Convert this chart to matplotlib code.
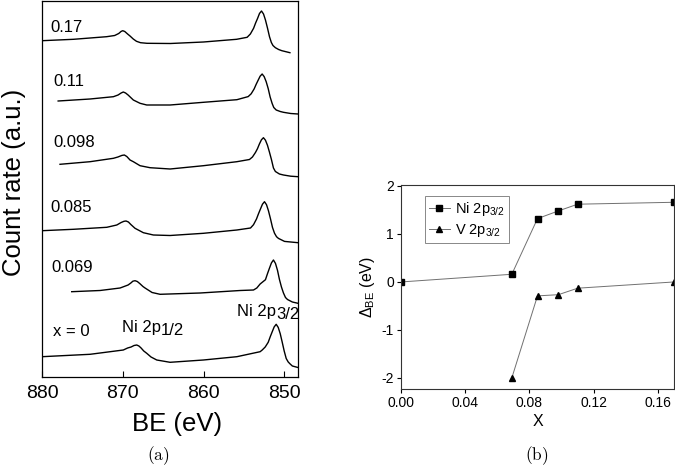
import matplotlib
matplotlib.use("Agg")
import matplotlib.pyplot as plt

plt.rcParams['font.family'] = ['Liberation Sans', 'DejaVu Sans']
plt.rcParams['mathtext.fontset'] = 'custom'
plt.rcParams['mathtext.rm'] = 'Liberation Sans'
plt.rcParams['mathtext.it'] = 'Liberation Sans:italic'
plt.rcParams['mathtext.bf'] = 'Liberation Sans:bold'
plt.rcParams['axes.unicode_minus'] = False

# ---------------- panel (a): Ni 2p XPS spectra (offset, a.u.) ----------------
be_017 = [880.0, 876.1, 872.0, 871.0, 870.5, 870.2, 870.0, 869.75, 869.4, 869.1, 868.7, 868.3,
          867.8, 867.0, 864.1, 860.0, 855.9, 854.6, 854.2, 853.8, 853.55, 853.3, 853.07, 852.82,
          852.57, 852.33, 852.08, 851.83, 851.6, 851.4, 851.1, 850.7, 850.3, 849.3]
cnt_017 = [336.3, 337.7, 340.3, 341.5, 343.5, 345.6, 346.3, 345.5, 343.0, 341.0, 338.0, 335.7,
           334.3, 333.7, 333.5, 335.0, 337.7, 339.7, 343.0, 348.7, 354.0, 358.7, 363.5, 366.0,
           363.0, 357.0, 349.0, 340.3, 334.5, 331.5, 329.3, 327.5, 326.3, 324.3]

be_011 = [878.0, 874.05, 871.16, 870.58, 870.2, 869.93, 869.65, 869.34, 868.69, 867.86, 867.03,
          864.14, 860.01, 855.87, 854.47, 854.10, 853.73, 853.48, 853.24, 852.99, 852.74, 852.49,
          852.24, 851.99, 851.75, 851.5, 851.3, 851.0, 850.5, 850.1, 849.2, 848.3]
cnt_011 = [276.0, 278.0, 280.3, 282.0, 284.0, 285.0, 284.0, 282.0, 277.0, 273.7, 272.0,
           272.0, 274.7, 277.3, 280.4, 283.2, 288.1, 292.7, 296.7, 300.8, 303.0, 300.4,
           295.3, 288.4, 280.0, 273.5, 269.5, 267.0, 265.5, 264.7, 263.5, 263.0]

be_0098 = [877.77, 874.05, 871.16, 870.6, 870.1, 869.80, 869.5, 869.1, 868.69, 867.86, 866.62,
           864.14, 860.01, 855.87, 854.31, 853.94, 853.57, 853.32, 853.08, 852.83, 852.58, 852.33,
           852.08, 851.84, 851.59, 851.34, 851.1, 850.6, 850.1, 849.2, 848.3]
cnt_0098 = [212.7, 215.3, 218.7, 220.0, 221.6, 222.0, 220.5, 217.0, 215.3, 211.3, 209.3,
            208.0, 211.3, 215.3, 217.5, 220.0, 224.5, 228.3, 233.0, 237.2, 239.3, 236.8,
            231.7, 225.0, 217.5, 209.0, 205.5, 203.0, 202.0, 200.8, 200.3]

be_0085 = [880.0, 876.12, 871.98, 870.74, 870.2, 869.85, 869.59, 869.3, 869.0, 868.48, 867.45,
           866.21, 864.14, 860.01, 855.87, 854.18, 853.81, 853.44, 853.19, 852.95, 852.70, 852.45,
           852.20, 851.96, 851.71, 851.46, 851.21, 850.96, 850.72, 849.97, 848.3]
cnt_0085 = [146.3, 147.7, 149.7, 152.0, 154.5, 155.7, 156.0, 155.0, 152.5, 148.7, 144.3,
            142.0, 141.5, 143.7, 147.0, 149.0, 152.3, 158.0, 163.3, 168.0, 172.8, 175.3,
            172.3, 166.3, 158.3, 149.6, 143.8, 140.3, 138.6, 135.6, 134.3]

be_0069 = [876.32, 872.81, 870.33, 869.34, 869.0, 868.75, 868.48, 868.2, 867.9, 867.5, 867.24,
           866.37, 865.38, 860.42, 855.46, 853.81, 853.4, 852.99, 852.33, 852.08, 851.84, 851.59,
           851.34, 851.09, 850.84, 850.60, 850.35, 850.10, 849.85, 849.6, 849.0, 848.3]
cnt_0069 = [85.3, 86.5, 89.0, 92.0, 94.0, 95.8, 96.3, 95.5, 93.5, 90.5, 89.0,
            84.5, 82.7, 84.0, 86.5, 87.0, 89.0, 93.0, 97.3, 103.3, 108.7, 114.1,
            117.0, 113.6, 106.7, 97.6, 90.0, 84.0, 79.5, 77.5, 75.0, 73.7]

be_0 = [880.0, 874.05, 869.93, 869.4, 868.97, 868.6, 868.27, 868.0, 867.73, 867.4, 867.03,
        866.5, 865.79, 864.14, 860.01, 855.87, 852.99, 852.73, 852.36, 851.99, 851.74, 851.5,
        851.25, 851.0, 850.75, 850.5, 850.26, 850.01, 849.76, 849.51, 849.27, 849.0, 848.3]
cnt_0 = [20.3, 22.7, 27.0, 29.0, 30.0, 31.5, 32.0, 31.0, 29.0, 26.0, 23.7,
         20.0, 17.0, 14.7, 17.0, 20.3, 25.3, 27.0, 30.0, 34.7, 40.2, 45.1,
         50.1, 52.7, 49.6, 43.3, 35.0, 26.0, 18.5, 15.0, 13.0, 11.0, 9.5]

spectra = [(be_017, cnt_017), (be_011, cnt_011), (be_0098, cnt_0098),
           (be_0085, cnt_0085), (be_0069, cnt_0069), (be_0, cnt_0)]
spec_labels = ['0.17', '0.11', '0.098', '0.085', '0.069', 'x = 0']
spec_label_pos = [(879.0, 345.3), (878.6, 291.0), (878.6, 230.0),
                  (879.0, 165.0), (878.8, 105.0), (878.6, 41.0)]
be_ticks = [880, 870, 860, 850]

# ---------------- panel (b): binding-energy shifts ----------------
x_ni = [0.0, 0.069, 0.085, 0.098, 0.11, 0.17]
d_ni = [0.0, 0.16, 1.32, 1.48, 1.62, 1.66]
x_v = [0.069, 0.085, 0.098, 0.11, 0.17]
d_v = [-2.0, -0.29, -0.265, -0.13, 0.0]
x_ticks = [0.00, 0.04, 0.08, 0.12, 0.16]
y_ticks = [-2, -1, 0, 1, 2]

fig = plt.figure(figsize=(6.75, 4.68), dpi=100)

# ---- (a)
axL = fig.add_axes([42/675, 1-377/468, 256/675, 376/468])
for be, cnt in spectra:
    axL.plot(be, cnt, color='black', lw=1.0)
axL.set_xlim(880, 848.3)
axL.set_ylim(0, 376)
axL.set_xticks(be_ticks)
axL.set_yticks([])
axL.tick_params(axis='x', direction='in', length=4, width=0.8, labelsize=14, pad=6)
for s in axL.spines.values():
    s.set_linewidth(0.9)
axL.set_xlabel('BE (eV)', fontsize=18.5)
axL.xaxis.set_label_coords(0.527, -0.092)
axL.set_ylabel('Count rate (a.u.)', fontsize=18.5)
axL.yaxis.set_label_coords(-0.062, 0.517)
for lab, (bx, by) in zip(spec_labels, spec_label_pos):
    axL.text(bx, by, lab, fontsize=12, va='baseline', ha='left')
t1 = axL.text(870.1, 45, 'Ni 2p', fontsize=12, va='baseline', ha='left')
axL.annotate('1/2', xy=(1, 0), xycoords=t1, xytext=(0, 0), textcoords='offset points',
             fontsize=12, va='baseline', ha='left')
t2 = axL.text(855.8, 61.3, 'Ni 2p', fontsize=12, va='baseline', ha='left')
axL.annotate('3/2', xy=(1, 0), xycoords=t2, xytext=(0, 0), textcoords='offset points',
             fontsize=12, va='baseline', ha='left', annotation_clip=False)

# ---- (b)
axR = fig.add_axes([401/675, 1-389/468, 273/675, 204/468])
axR.plot(x_ni, d_ni, color='#707070', lw=0.7, marker='s', markersize=4,
         markerfacecolor='black', markeredgecolor='black', label=r'Ni 2p$_{3/2}$')
axR.plot(x_v, d_v, color='#707070', lw=0.7, marker='^', markersize=4.5,
         markerfacecolor='black', markeredgecolor='black', label=r'V 2p$_{3/2}$')
axR.set_xlim(0, 0.17)
axR.set_ylim(-2.23, 2.02)
axR.set_xticks(x_ticks)
axR.set_xticklabels(['%.2f' % v for v in x_ticks])
axR.set_yticks(y_ticks)
axR.tick_params(direction='out', length=3, width=0.8, labelsize=10, pad=2)
for s in axR.spines.values():
    s.set_linewidth(0.8)
    s.set_color('#333333')
axR.set_xlabel('X', fontsize=11.5, labelpad=3)
axR.set_ylabel('Δ$_{\\rm BE}$ (eV)', fontsize=11.5, labelpad=3)
leg = axR.legend(loc='upper left', bbox_to_anchor=(0.088, 0.946), borderaxespad=0,
                 fontsize=10.5, handlelength=1.45, handletextpad=0.35, borderpad=0.25,
                 labelspacing=0.3, fancybox=False, framealpha=1)
leg.get_frame().set_edgecolor('#888888')
leg.get_frame().set_linewidth(0.7)

# captions
fig.text(158/675, 1-456/468, r'$\mathrm{(a)}$', math_fontfamily='cm', fontsize=12.5,
         ha='center', va='center')
fig.text(537/675, 1-456/468, r'$\mathrm{(b)}$', math_fontfamily='cm', fontsize=12.5,
         ha='center', va='center')

fig.savefig('out.png', dpi=100)
